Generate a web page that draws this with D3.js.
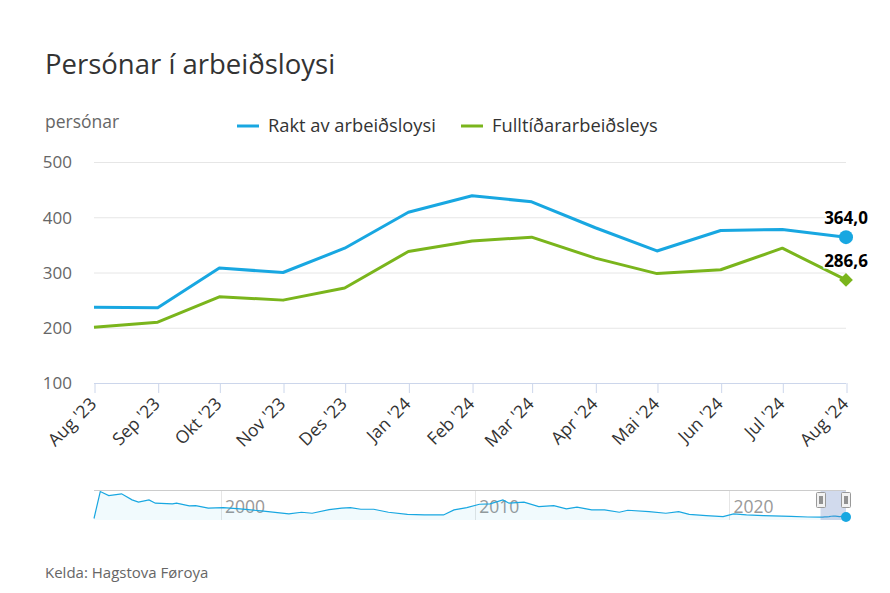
<!DOCTYPE html>
<html><head><meta charset="utf-8">
<script src="https://cdn.jsdelivr.net/npm/d3@7"></script>
<style>
body{margin:0;background:#fff}
svg{display:block;font-family:"Open Sans",sans-serif}
</style>
</head><body>
<svg id="chart" width="890" height="593"></svg>
<script>
// ---- data ----
const monthLabels = ["Aug '23","Sep '23","Okt '23","Nov '23","Des '23","Jan '24","Feb '24","Mar '24","Apr '24","Mai '24","Jun '24","Jul '24","Aug '24"];
const monthDates = ["2023-08-01","2023-09-01","2023-10-01","2023-11-01","2023-12-01","2024-01-01","2024-02-01","2024-03-01","2024-04-01","2024-05-01","2024-06-01","2024-07-01","2024-08-01"];
const raktValues = [237, 236, 308, 300, 344, 409, 439, 428, 381, 339, 376, 378, 364.0];
const fulltidValues = [201, 210, 256, 250, 272, 338, 357, 364, 326, 298, 305, 344, 286.6];
const seriesNames = ["Rakt av arbeiðsloysi", "Fulltíðararbeiðsleys"];
const yTickValues = [100, 200, 300, 400, 500];
const navDates = ["1995-01","1995-04","1995-08","1996-02","1996-07","1996-10","1997-03","1997-06","1998-02","1998-04","1998-10","1999-01","1999-07","2000-02","2000-10","2001-08","2002-09","2003-03","2003-08","2004-04","2004-10","2005-02","2005-07","2006-01","2006-08","2007-05","2008-01","2008-10","2009-03","2009-09","2010-03","2010-08","2011-02","2011-05","2011-12","2012-07","2013-02","2013-08","2014-01","2014-08","2015-02","2015-09","2016-01","2016-11","2017-07","2018-01","2018-06","2019-02","2019-10","2020-03","2020-09","2021-05","2022-06","2023-02"];
const navValues = [0,4880,4150,4460,3370,2950,3370,2770,2640,2770,2280,2330,1860,1970,1730,1370,820,1130,950,1600,1860,1970,1670,1670,1130,760,640,640,1550,1970,2580,2640,3370,2770,2950,2150,2330,1730,2040,1550,1550,1130,1490,1240,950,1240,760,510,330,820,640,510,400,270];
const navTickLabels = ["2000","2010","2020"];

// ---- layout ----
const svg = d3.select("#chart");
const blue = "#18a7e1", green = "#7ab51c";
const plot = {left: 94, right: 846, top: 162, bottom: 383};
const parse = d3.timeParse("%Y-%m-%d");
const mDates = monthDates.map(parse);

const x = d3.scaleTime().domain(d3.extent(mDates)).range([plot.left, plot.right]);
const y = d3.scaleLinear().domain([100, 500]).range([plot.bottom, plot.top]);

// title & subtitles
svg.append("text").attr("x", 45).attr("y", 74).attr("font-size", 27.5).attr("fill", "#333").text("Persónar í arbeiðsloysi");
svg.append("text").attr("x", 45).attr("y", 128).attr("font-size", 17.5).attr("fill", "#666").text("persónar");

// gridlines
svg.append("g").selectAll("line").data(yTickValues.filter(v => v > 100)).join("line")
  .attr("x1", plot.left).attr("x2", plot.right)
  .attr("y1", d => y(d) + 0.5).attr("y2", d => y(d) + 0.5)
  .attr("stroke", "#e6e6e6").attr("stroke-width", 1);

// y axis labels
const yAxis = d3.axisLeft(y).tickValues(yTickValues).tickSize(0).tickPadding(0);
const gy = svg.append("g").attr("transform", `translate(72,0)`).call(yAxis);
gy.select(".domain").remove();
gy.selectAll("text").attr("font-size", 17).attr("fill", "#666").attr("font-family", "Open Sans").attr("dy", "0.35em");

// x axis
const xAxis = d3.axisBottom(x).tickValues(mDates).tickSize(10).tickFormat((d, i) => monthLabels[i]);
const gx = svg.append("g").attr("transform", `translate(0,${plot.bottom})`).call(xAxis);
gx.select(".domain").attr("stroke", "#ccd6eb").attr("d", `M${plot.left},0.5H${plot.right}`);
gx.selectAll(".tick line").attr("stroke", "#ccd6eb").attr("transform", "translate(0.5,0)");
gx.selectAll(".tick text")
  .attr("font-size", 17.5).attr("fill", "#333").attr("font-family", "Open Sans")
  .attr("text-anchor", "end").attr("y", 0).attr("dy", 0)
  .attr("transform", "translate(3,22) rotate(-45)");

// lines
const line = d3.line().x((d, i) => x(mDates[i])).y(d => y(d));
svg.append("path").datum(fulltidValues).attr("d", line).attr("fill", "none").attr("stroke", green).attr("stroke-width", 3).attr("stroke-linejoin", "round");
svg.append("path").datum(raktValues).attr("d", line).attr("fill", "none").attr("stroke", blue).attr("stroke-width", 3).attr("stroke-linejoin", "round");

// last-point markers
const li = mDates.length - 1;
svg.append("circle").attr("cx", x(mDates[li])).attr("cy", y(raktValues[li])).attr("r", 7).attr("fill", blue);
svg.append("path").attr("d", d3.symbol(d3.symbolDiamond2, 120)())
  .attr("transform", `translate(${x(mDates[li])},${y(fulltidValues[li])})`).attr("fill", green);

const fmt = v => d3.format(".1f")(v).replace(".", ",");
[[raktValues[li]], [fulltidValues[li]]].forEach(([v]) => {
  svg.append("text").attr("x", x(mDates[li])).attr("y", y(v) - 13)
    .attr("text-anchor", "middle").attr("font-size", 17).attr("font-weight", "bold")
    .attr("fill", "#000").attr("stroke", "#fff").attr("stroke-width", 3).attr("paint-order", "stroke")
    .text(fmt(v));
});

// legend
const legend = [{name: seriesNames[0], color: blue, x: 237}, {name: seriesNames[1], color: green, x: 461}];
legend.forEach(l => {
  svg.append("line").attr("x1", l.x).attr("x2", l.x + 22).attr("y1", 126).attr("y2", 126).attr("stroke", l.color).attr("stroke-width", 3);
  svg.append("text").attr("x", l.x + 31).attr("y", 132).attr("font-size", 18.3).attr("fill", "#333").text(l.name);
});

// ---- navigator ----
const nav = {top: 490, bottom: 520};
const pm = d3.timeParse("%Y-%m");
const navPts = navDates.map((d, i) => [pm(d), navValues[i]]).concat(mDates.map((d, i) => [d, raktValues[i]]));
const nx = d3.scaleTime().domain([pm("1995-01"), mDates[li]]).range([plot.left, plot.right]);
const ny = d3.scaleLinear().domain([0, d3.max(navValues)]).range([518.5, 491.5]);

const navTickDates = navTickLabels.map(t => pm(t + "-01"));
svg.append("g").selectAll("line").data(navTickDates).join("line")
  .attr("x1", d => Math.round(nx(d)) + 0.5).attr("x2", d => Math.round(nx(d)) + 0.5)
  .attr("y1", nav.top).attr("y2", nav.bottom).attr("stroke", "#e6e6e6");
svg.append("g").selectAll("text").data(navTickDates).join("text")
  .attr("x", d => nx(d) + 4).attr("y", 513).attr("font-size", 17.5).attr("fill", "#999")
  .text((d, i) => navTickLabels[i]);

svg.append("path").datum(navPts)
  .attr("d", d3.area().x(d => nx(d[0])).y0(nav.bottom).y1(d => ny(d[1])))
  .attr("fill", blue).attr("fill-opacity", 0.06);
svg.append("path").datum(navPts)
  .attr("d", d3.line().x(d => nx(d[0])).y(d => ny(d[1])))
  .attr("fill", "none").attr("stroke", blue).attr("stroke-width", 1.2);

// selection mask
const selStart = nx(mDates[0]);
svg.append("rect").attr("x", selStart).attr("y", nav.top).attr("width", plot.right - selStart).attr("height", nav.bottom - nav.top)
  .attr("fill", "rgba(102,133,194,0.3)");
svg.append("line").attr("x1", plot.left).attr("x2", plot.right).attr("y1", nav.top + 0.5).attr("y2", nav.top + 0.5).attr("stroke", "#ccc");
svg.append("circle").attr("cx", nx(mDates[li])).attr("cy", 517).attr("r", 5).attr("fill", blue);

[selStart, plot.right].forEach(hx => {
  const g = svg.append("g").attr("transform", `translate(${Math.round(hx) - 5},492)`);
  g.append("rect").attr("x", 0.5).attr("y", 0.5).attr("width", 9).attr("height", 15).attr("rx", 1)
    .attr("fill", "#f2f2f2").attr("stroke", "#999");
  g.append("path").attr("d", "M4,4V12M6,4V12").attr("stroke", "#333").attr("stroke-width", 1);
});

// source
svg.append("text").attr("x", 45).attr("y", 578).attr("font-size", 15).attr("fill", "#666").text("Kelda: Hagstova Føroya");
</script>
</body></html>
